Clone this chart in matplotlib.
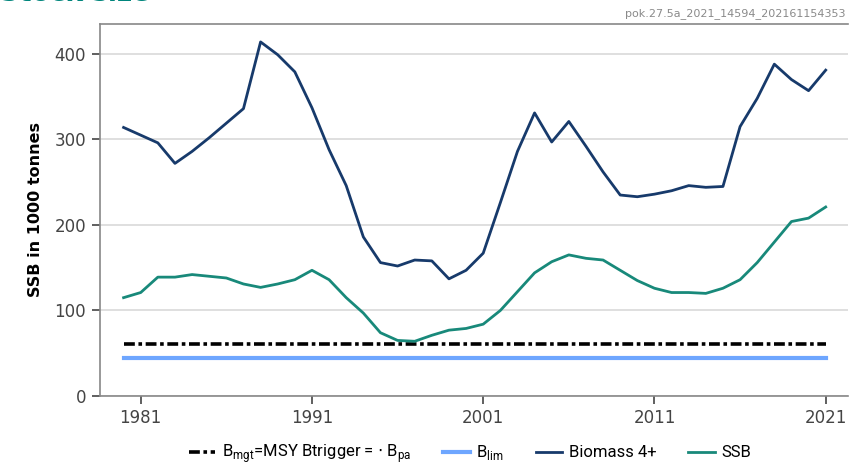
import matplotlib
matplotlib.use('Agg')
from matplotlib import pyplot as plt
import numpy as np

years = np.arange(1980, 2022)
biomass4 = [314, 305, 296, 272, 286, 302, 319, 336, 414, 399,
            379, 337, 288, 246, 186, 156, 152, 159, 158, 137,
            147, 167, 226, 286, 331, 297, 321, 292, 262, 235,
            233, 236, 240, 246, 244, 245, 315, 348, 388, 370,
            357, 381]
ssb = [115, 121, 139, 139, 142, 140, 138, 131, 127, 131,
       136, 147, 136, 115, 97, 74, 65, 64, 71, 77,
       79, 84, 100, 122, 144, 157, 165, 161, 159, 147,
       135, 126, 121, 121, 120, 126, 136, 156, 180, 204,
       208, 221]
bpa = 61
blim = 44
xticks = [1981, 1991, 2001, 2011, 2021]

navy = '#173a6b'
teal = '#18897a'
lightblue = '#6ea6ff'

fig = plt.figure(figsize=(8.5, 4.68), dpi=100)
ax = fig.add_axes([0.1176, 0.1538, 0.88, 0.795])

ax.plot(years, [bpa]*len(years), color='black', lw=2.6, ls=(0, (3, 1, 1, 1)),
        label='B$_{\\mathregular{mgt}}$=MSY Btrigger = $\\cdot$ B$_{\\mathregular{pa}}$')
ax.plot(years, [blim]*len(years), color=lightblue, lw=3, label='B$_{\\mathregular{lim}}$')
ax.plot(years, biomass4, color=navy, lw=2, label='Biomass 4+')
ax.plot(years, ssb, color=teal, lw=2, label='SSB')

ax.set_xlim(1978.62, 2022.3)
ax.set_ylim(0, 435)
ax.set_yticks([0, 100, 200, 300, 400])
ax.set_xticks(xticks)
ax.tick_params(axis='both', labelsize=12, colors='#444444', length=6, width=1.2, direction='out')
ax.tick_params(axis='y', pad=4)
ax.grid(axis='y', color='#d9d9d9', lw=1.2)
ax.set_axisbelow(True)
for s in ['left', 'top', 'bottom']:
    ax.spines[s].set_color('#888888')
    ax.spines[s].set_linewidth(1.2)
ax.spines['right'].set_visible(False)
ax.set_ylabel('SSB in 1000 tonnes', fontsize=11.5, fontweight='bold', labelpad=8)

fig.legend(*ax.get_legend_handles_labels(), loc='center', bbox_to_anchor=(0.553, 0.03),
           ncol=4, frameon=False, handlelength=1.6, columnspacing=1.9, handletextpad=0.4,
           prop={'family': ['Roboto', 'DejaVu Sans'], 'size': 12})

fig.text(0.0, 1.012, 'Stock size', color='#00857c', fontsize=19, fontweight='bold',
         va='center', ha='left')
fig.text(0.995, 0.972, 'pok.27.5a_2021_14594_202161154353', color='#8a8a8a',
         fontsize=8, ha='right', va='center')

plt.savefig('out.png', dpi=100)
